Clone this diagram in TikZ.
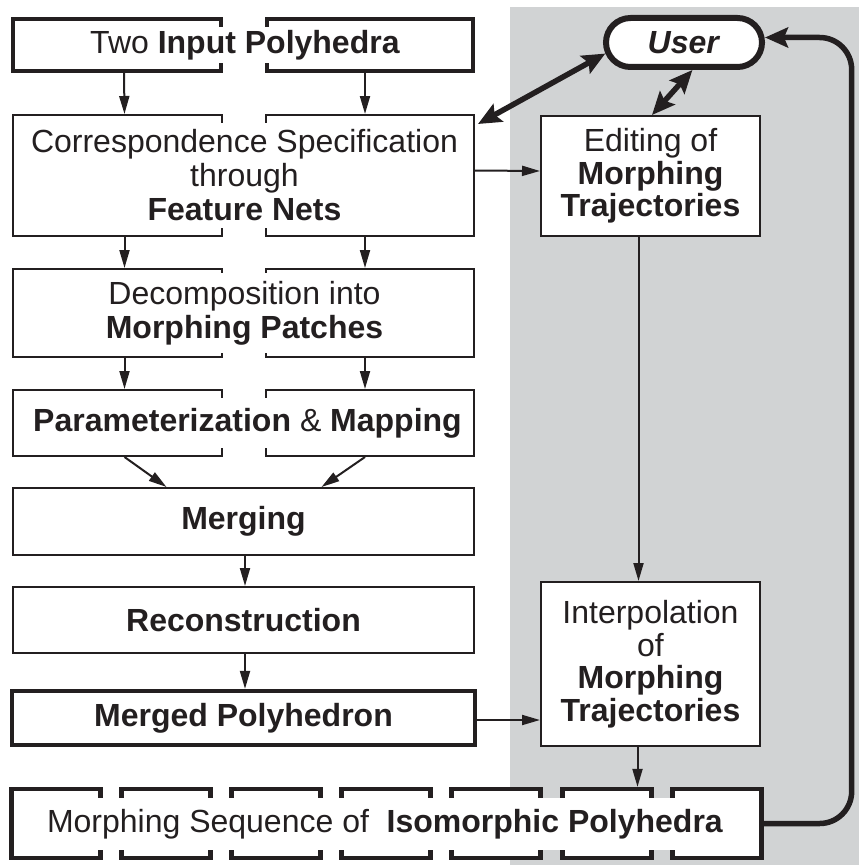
\documentclass[tikz,border=0pt]{standalone}
\usepackage{fontspec}
\setmainfont{Liberation Sans}
\usetikzlibrary{arrows.meta,shapes.misc}
\definecolor{ink}{HTML}{231F20}
\definecolor{panel}{HTML}{D1D3D4}
\newcommand\dfont{\fontsize{32}{34}\selectfont}
\newcommand\rfont{\fontsize{32}{32.5}\selectfont}
\begin{document}
\begin{tikzpicture}[x=1pt,y=-1pt,font=\dfont,text=ink]
\tikzset{
 thinbox/.style={draw=ink,line width=2pt,fill=white,inner sep=0pt,align=center},
 thickbox/.style={draw=ink,line width=4.3pt,fill=white,inner sep=0pt,align=center},
 band/.style={fill=white,inner xsep=4pt,inner ysep=0pt,align=center},
 flow/.style={draw=ink,line width=2pt,-{Triangle[length=18pt,width=10pt]}},
 heavy/.style={draw=ink,line width=5.5pt,line join=round},
 heavytip/.tip={Stealth[length=23pt,width=20pt,inset=4pt]},
}
\useasboundingbox (0,0) rectangle (859,867);
% grey panel
\fill[panel] (510,7) rectangle (859,865);

% left column, split boxes
\node[thickbox,minimum width=208pt,minimum height=52pt] (t1) at (117,45) {};
\node[thickbox,minimum width=206pt,minimum height=52pt] (t2) at (370,45) {};
\node[thinbox,minimum width=209pt,minimum height=121pt] (c1) at (117.5,175.5) {};
\node[thinbox,minimum width=208pt,minimum height=121pt] (c2) at (370,175.5) {};
\node[thinbox,minimum width=209pt,minimum height=88pt] (d1) at (117.5,313) {};
\node[thinbox,minimum width=208pt,minimum height=88pt] (d2) at (370,313) {};
\node[thinbox,minimum width=209pt,minimum height=66pt] (p1) at (117.5,423) {};
\node[thinbox,minimum width=208pt,minimum height=66pt] (p2) at (370,423) {};

% single boxes
\node[thinbox,minimum width=461pt,minimum height=67pt] (m) at (243.5,521.5) {\textbf{Merging}};
\node[thinbox,minimum width=461pt,minimum height=66pt] (r) at (243.5,620) {\textbf{Reconstruction}};
\node[thickbox,minimum width=463pt,minimum height=54pt] (mp) at (243.5,718) {\textbf{Merged Polyhedron}};

% sequence boxes
\foreach \k/\xx in {1/56,2/166,3/276,4/386,5/496,6/607,7/717}{
  \node[thickbox,minimum width=89pt,minimum height=69pt] (s\k) at (\xx,823.5) {};
}

% right column
\node[thinbox,minimum width=219pt,minimum height=120pt,font=\rfont] (e) at (650.5,176)
  {Editing of\\\textbf{Morphing}\\\textbf{Trajectories}};
\node[thinbox,minimum width=219pt,minimum height=164pt,font=\rfont] (i) at (650.5,664)
  {Interpolation\\of\\\textbf{Morphing}\\\textbf{Trajectories}};
\node[draw=ink,line width=6pt,fill=white,inner sep=0pt,shape=rounded rectangle,minimum width=156pt,minimum height=49pt] (u) at (684,42.5)
  {\textbf{\textit{User}}};

% white text bands across split boxes
\node[band,minimum height=36pt] (tt) at (245,45) {Two \textbf{Input Polyhedra}};
\node[band,minimum height=105pt] (ct) at (244.5,175.5) {Correspondence Specification\\through\\\textbf{Feature Nets}};
\node[band,minimum height=80pt] (dt) at (244.5,313) {Decomposition into\\\textbf{Morphing Patches}};
\node[band,minimum height=50pt] (pt) at (247.5,423) {\textbf{Parameterization} \& \textbf{Mapping}};
\node[band,minimum height=52pt] (st) at (385,824) {Morphing Sequence of\hspace{0.55em}\textbf{Isomorphic Polyhedra}};

% thin arrows
\draw[flow] ([xshift=7pt]t1.south) -- ([xshift=7pt]c1.north);
\draw[flow] ([xshift=-5pt]t2.south) -- ([xshift=-5pt]c2.north);
\draw[flow] ([xshift=7pt]c1.south) -- ([xshift=7pt]d1.north);
\draw[flow] ([xshift=-5pt]c2.south) -- ([xshift=-5pt]d2.north);
\draw[flow] ([xshift=7pt]d1.south) -- ([xshift=7pt]p1.north);
\draw[flow] ([xshift=-5pt]d2.south) -- ([xshift=-5pt]p2.north);
\draw[flow] ([xshift=7pt]p1.south) -- ([xshift=-77pt]m.north);
\draw[flow] ([xshift=-5pt]p2.south) -- ([xshift=78pt]m.north);
\draw[flow] ([xshift=1.5pt]m.south) -- ([xshift=1.5pt]r.north);
\draw[flow] ([xshift=1.5pt]r.south) -- ([xshift=1.5pt]mp.north);
\draw[flow] ([yshift=5pt]c2.east) -- ([yshift=5pt]e.west);
\draw[flow] ([xshift=-12pt]e.south) -- ([xshift=-12pt]i.north);
\draw[flow] ([yshift=-2pt]mp.east) -- ([yshift=-2pt]mp.east -| i.west);
\draw[flow] ([xshift=-13pt]i.south) -- ([xshift=-13pt]i.south |- s6.north);

% heavy arrows
\draw[heavy,{heavytip}-{heavytip}] ([shift={(3pt,-10pt)}]c2.north east) -- (u.188);
\draw[heavy,{heavytip}-{heavytip}] (u.287) -- ([xshift=1.5pt]e.north);
\draw[heavy,-{heavytip},rounded corners=32pt] (s7.east) -- ++(88,0) |- ([yshift=5pt]u.east);
\end{tikzpicture}
\end{document}
